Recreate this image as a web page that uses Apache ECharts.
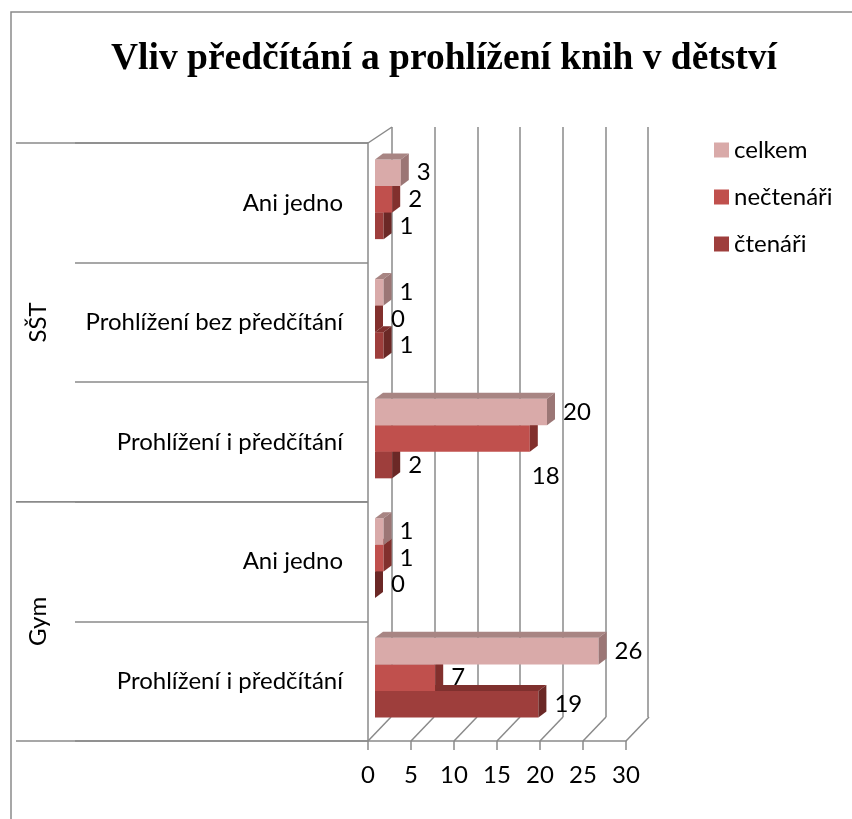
<!DOCTYPE html>
<html>
<head>
<meta charset="utf-8">
<script src="https://cdn.jsdelivr.net/npm/echarts@6/dist/echarts.min.js"></script>
<style>
  html, body { margin: 0; padding: 0; background: #fff; }
  #chart { width: 852px; height: 819px; }
</style>
</head>
<body>
<div id="chart"></div>
<script>
// categories bottom -> top, "group|label"
var categories = ['Gym|Prohlížení i předčítání', 'Gym|Ani jedno', 'SŠT|Prohlížení i předčítání', 'SŠT|Prohlížení bez předčítání', 'SŠT|Ani jedno'];
var groups = [['Gym', 0, 1], ['SŠT', 2, 4]];
var ctenari = [19, 0, 2, 1, 1];
var nectenari = [7, 1, 18, 0, 2];
var celkem = [26, 1, 20, 1, 3];
var xTicks = [0, 5, 10, 15, 20, 25, 30];

var FONT = 'Lato';
var FS = 24;
var GRID_LINE = '#8a8a8a';

// excel put the "18" label under its bar
var labelNudge = { '1-2': [-14, 38] };

var chart = echarts.init(document.getElementById('chart'));

function boxSeries(name, values, pos, front, top, side) {
	return {
		name: name,
		type: 'custom',
		xAxisIndex: 1,
		yAxisIndex: 1,
		itemStyle: { color: front },
		data: values.map(function (v, i) { return [v, i]; }),
		renderItem: function (params, api) {
			var val = api.value(0), cat = api.value(1);
			var start = api.coord([0, cat]);
			var end = api.coord([val, cat]);
			var band = api.size([0, 1])[1];
			var t = band * 0.222;
			var dx = 8, dy = 6;
			var yTop = start[1] + 1.5 * t - (pos + 1) * t;
			var yBot = yTop + t;
			var x0 = start[0], x1 = end[0];
			var nudge = labelNudge[pos + '-' + params.dataIndex] || [0, 0];
			return {
				type: 'group',
				children: [
					{ type: 'rect', shape: { x: x0, y: yTop, width: x1 - x0, height: t }, style: { fill: front } },
					{ type: 'polygon', shape: { points: [[x0, yTop], [x1, yTop], [x1 + dx, yTop - dy], [x0 + dx, yTop - dy]] }, style: { fill: top } },
					{ type: 'polygon', shape: { points: [[x1, yTop], [x1 + dx, yTop - dy], [x1 + dx, yBot - dy], [x1, yBot]] }, style: { fill: side } },
					{ type: 'text', z2: 100, style: { text: String(val), x: x1 + dx + 8 + nudge[0], y: yTop + t / 2 + nudge[1], fill: '#000', font: FS + 'px ' + FONT, textAlign: 'left', textVerticalAlign: 'middle' } }
				]
			};
		}
	};
}

var option = {
	backgroundColor: '#fff',
	animation: false,
	title: {
		text: 'Vliv předčítání a prohlížení knih v dětství',
		left: 439,
		top: 35,
		textAlign: 'center',
		textStyle: { fontFamily: 'Liberation Serif', fontWeight: 'bold', fontSize: 37.5, color: '#000' }
	},
	legend: {
		orient: 'vertical',
		left: 709,
		top: 133,
		itemWidth: 15,
		itemHeight: 15,
		itemGap: 23,
		icon: 'rect',
		data: ['celkem', 'nečtenáři', 'čtenáři'],
		textStyle: { fontFamily: FONT, fontSize: FS, color: '#000' }
	},
	graphic: [{
		type: 'rect',
		shape: { x: 11, y: 12, width: 900, height: 900 },
		style: { fill: 'none', stroke: GRID_LINE, lineWidth: 1.5 },
		silent: true
	}],
	grid: [
		{ left: 392, top: 127, width: 256, height: 590 },   // back wall
		{ left: 375, top: 139.5, width: 258, height: 598 }, // bars
		{ left: 368, top: 143, width: 258, height: 598 }    // front axes
	],
	xAxis: [
		{ gridIndex: 0, type: 'value', min: 0, max: 30, interval: 5, axisLine: { show: false }, axisTick: { show: false }, axisLabel: { show: false }, splitLine: { show: true, lineStyle: { color: GRID_LINE, width: 1.5 } } },
		{ gridIndex: 1, type: 'value', min: 0, max: 30, show: false },
		{ gridIndex: 2, type: 'value', min: 0, max: 30, interval: 5,
			axisLine: { show: true, lineStyle: { color: GRID_LINE, width: 1.5 } },
			axisTick: { show: true, length: 9, lineStyle: { color: GRID_LINE, width: 1.5 } },
			axisLabel: { margin: 22, fontFamily: FONT, fontSize: FS, color: '#000' },
			splitLine: { show: false } }
	],
	yAxis: [
		{ gridIndex: 0, type: 'value', show: false },
		{ gridIndex: 1, type: 'category', data: categories, show: false },
		{ gridIndex: 2, type: 'category', data: categories,
			axisLine: { show: true, lineStyle: { color: GRID_LINE, width: 1.5 } },
			axisTick: { show: true, length: 293, lineStyle: { color: GRID_LINE, width: 1.5 } },
			axisLabel: { margin: 25, fontFamily: FONT, fontSize: FS, color: '#000',
				formatter: function (v) { return v.split('|')[1]; } } }
	],
	series: [
		// floor diagonals + top-left edge
		{
			type: 'custom',
			xAxisIndex: 2,
			yAxisIndex: 2,
			silent: true,
			data: xTicks.map(function (v) { return [v, 0]; }),
			renderItem: function (params, api) {
				var cs = params.coordSys;
				var x = api.coord([api.value(0), 0])[0];
				var bottom = cs.y + cs.height;
				var kids = [{ type: 'line', shape: { x1: x, y1: bottom, x2: x + 23, y2: bottom - 24 }, style: { stroke: GRID_LINE, lineWidth: 1.5 } }];
				if (params.dataIndex === 0) {
					kids.push({ type: 'line', shape: { x1: x, y1: cs.y, x2: x + 24, y2: cs.y - 16 }, style: { stroke: GRID_LINE, lineWidth: 1.5 } });
				}
				return { type: 'group', children: kids };
			}
		},
		// group labels and group separators
		{
			type: 'custom',
			xAxisIndex: 2,
			yAxisIndex: 2,
			silent: true,
			data: groups.map(function (g) { return [0, g[1], g[2], g[0]]; }),
			renderItem: function (params, api) {
				var cs = params.coordSys;
				var band = api.size([0, 1])[1];
				var yA = api.coord([0, api.value(1)])[1] + band / 2;
				var yB = api.coord([0, api.value(2)])[1] - band / 2;
				var name = groups[params.dataIndex][0];
				return {
					type: 'group',
					children: [
						{ type: 'line', shape: { x1: 16, y1: yA, x2: cs.x, y2: yA }, style: { stroke: GRID_LINE, lineWidth: 1.5 } },
						{ type: 'line', shape: { x1: 16, y1: yB, x2: cs.x, y2: yB }, style: { stroke: GRID_LINE, lineWidth: 1.5 } },
						{ type: 'text', x: 38, y: (yA + yB) / 2, rotation: Math.PI / 2,
							style: { text: name, x: 0, y: 0, fill: '#000', font: FS + 'px ' + FONT, textAlign: 'center', textVerticalAlign: 'middle' } }
					]
				};
			}
		},
		boxSeries('čtenáři', ctenari, 0, '#9e3e3c', '#7f302e', '#6b2826'),
		boxSeries('nečtenáři', nectenari, 1, '#c0504d', '#9a3d3a', '#82302d'),
		boxSeries('celkem', celkem, 2, '#d9aaa9', '#a88583', '#9b7675')
	]
};

chart.setOption(option);
</script>
</body>
</html>
